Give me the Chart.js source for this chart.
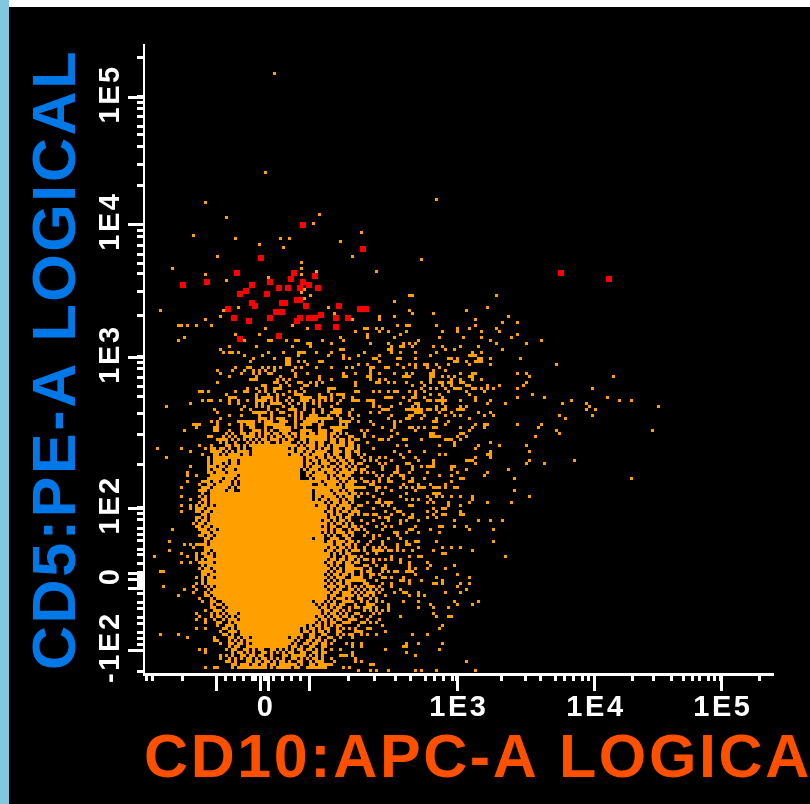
<!DOCTYPE html>
<html><head><meta charset="utf-8">
<style>
html,body{margin:0;padding:0;background:#000;width:810px;height:804px;overflow:hidden}
canvas{position:absolute;left:0;top:0}
#l{position:absolute;left:0;top:0;width:9px;height:804px;background:#80c8e0}
#t{position:absolute;left:9px;top:0;width:801px;height:7px;background:#fff}
</style>
<script src="https://cdn.jsdelivr.net/npm/chart.js@4"></script>
</head><body>
<canvas id="c" width="864" height="804"></canvas><div id="l"></div><div id="t"></div>
<script>
// Axis units are display channels of the logicle scale.
const xTitle = "CD10:APC-A LOGICAL";
const yTitle = "CD5:PE-A LOGICAL";
const xTickValues = [48.2,50.2,60.2,71.5,74.5,77.5,80.5,83.5,84.8,86.2,87.5,88.8,90.5,93.5,96.5,99.5,102.5,115.5,124.2,131.2,136.2,141.2,144.2,147.2,150.2,151.8,166.8,174.8,179.5,184.5,187.5,190.5,193.5,195.5,197.5,210.2,217.2,223.2,227.2,230.2,232.8,235.8,237.8,239.8,252.8];
const xMajorValues = [71.5,86.2,88.8,102.5,151.8,197.5,239.8];
const xLabelValues = [87.5,151.8,197.5,239.8];
const xLabelTexts = ["0","1E3","1E4","1E5"];
const yTickValues = [211.2,198.2,196.2,194.2,191.5,188.2,185.5,181.5,175.5,168.5,155.8,153.8,151.8,148.8,145.8,142.8,139.2,133.2,125.2,111.5,109.5,107.5,104.5,101.5,98.2,92.8,85.8,75.8,61.2,59.2,57.2,54.2,52.2,50.2,47.2,45.5,42.5,39.5,38.5,37.5,36.5,35.5,34.5,32.5,29.5,27.8,24.8,22.8,19.8,17.8,15.8,13.8,6.8];
const yMajorValues = [198.2,155.8,111.5,61.2,39.5,37.5,34.5,13.8];
const yLabelValues = [198.2,155.8,111.5,61.2,37.5,13.8];
const yLabelTexts = ["1E5","1E4","1E3","1E2","0","-1E2"];

// Gated events, [x, y]
const redEvents = [[100.5,155.5],[120.5,147.5],[86.5,144.5],[78.5,139.5],[60.5,135.5],[68.5,136.5],[97.5,139.5],[96.5,137.5],[104.5,138.5],[100.5,136.5],[102.5,135.5],[89.5,136.5],[83.5,135.5],[81.5,133.5],[79.5,132.5],[88.5,132.5],[92.5,134.5],[95.5,134.5],[99.5,134.5],[105.5,134.5],[83.5,129.5],[84.5,128.5],[93.5,129.5],[94.5,129.5],[98.5,130.5],[99.5,130.5],[101.5,128.5],[112.5,128.5],[119.5,127.5],[121.5,127.5],[75.5,127.5],[91.5,126.5],[93.5,126.5],[77.5,124.5],[82.5,123.5],[89.5,124.5],[98.5,123.5],[99.5,124.5],[102.5,124.5],[104.5,124.5],[106.5,125.5],[111.5,124.5],[115.5,124.5],[105.5,121.5],[111.5,121.5],[92.5,118.5],[79.5,117.5],[186.5,139.5],[202.5,137.5]];

// Densest part of the population, [y, x, x, ...]
const coreRows = [[80.5,85.5,89.5,93.5],[76.5,81.5,85.5,89.5,93.5,97.5],[72.5,81.5,85.5,89.5,93.5,97.5],[68.5,81.5,85.5,89.5,93.5,97.5,101.5],[64.5,77.5,81.5,85.5,89.5,93.5,97.5,101.5],[60.5,77.5,81.5,85.5,89.5,93.5,97.5,101.5],[56.5,77.5,81.5,85.5,89.5,93.5,97.5,101.5],[52.5,77.5,81.5,85.5,89.5,93.5,97.5,101.5],[48.5,75.5,77.5,81.5,85.5,89.5,93.5,97.5,101.5,105.5],[44.5,75.5,77.5,81.5,85.5,89.5,93.5,97.5,101.5,105.5],[40.5,75.5,77.5,81.5,85.5,89.5,93.5,97.5,101.5,105.5],[36.5,75.5,77.5,81.5,85.5,89.5,93.5,97.5,101.5,105.5],[32.5,75.5,77.5,81.5,85.5,89.5,93.5,97.5,101.5,105.5],[28.5,77.5,81.5,85.5,89.5,93.5,97.5,101.5],[24.5,81.5,85.5,89.5,93.5,97.5,101.5],[20.5,81.5,85.5,89.5,93.5,97.5],[16.5,85.5,89.5,93.5]];

// Sparse events, [y, x, x, ...]
const sparseTopRows = [[206,91],[173,88],[164,145],[163,68],[159,106],[158,75],[156,104],[153,120],[152,64],[151,78,93,96],[150,113],[149,86],[148,94],[145,72,117],[144,140],[143,100],[141,57,100],[140,105,125],[139,68,100],[138,89],[137,75],[134,101],[133,100],[132,103],[131,101],[128,79,109],[127,53,74,92],[126,111],[125,73,78],[124,68,117],[122,59,60,62,65,70,97],[121,88,102],[120,118,126],[119,78,86],[118,61,92,113],[117,81,90,98]];
const orangeUpperRows = [[117,59,81,89,95,99,107,114],[116,102,103,110],[115,76,85,97,103],[114,73,113,114],[113,74,76,77,79,89,94,99,100,101,105,110],[112,81,87,99,109,114,119],[111,84,91,95,96,114,116],[110,83,95,96,99,101,106,107],[109,95,96,102,119],[108,78,82,83,87,89,91,93,98,100,105,110,115,117],[107,72,77,81,84,86,88,91,97],[106,73,80,84,86,89,90,98,102,114,118],[105,76,85,93,98,106,114,115],[104,83,84,85,92,94,96,106,110],[103,72,91,92,95,99,100,103,105,107,118],[102,87,88,93,96,101,102,105,118],[101,82,85,88,91,92,93,100,109,110,111],[100,66,67,69,78,81,82,86,88,91,96,98,101,109,118,119],[99,75,85,89,92,94,98,99,100,106,110,112,113,114],[98,76,77,78,85,87,88,89,90,92,96,100,101,102,103,106,107,108,110,114,117],[97,67,69,70,73,76,79,82,85,86,87,88,90,92,95,97,100,101,102,104,106,108,110,113,117,118,119],[96,63,76,79,85,87,90,91,92,93,96,99,101,104,106,112],[95,55,81,85,87,89,94,97,101,106,110],[94,71,80,83,89,92,96,97,98,101,104,107,111,112,113,117],[93,72,84,85,86,87,88,90,93,94,98,100,104,107,110,111,112,113,116],[92,76,80,86,90,96,98,100,103,104,105,109,112,116,119],[91,73,86,87,88,90,92,93,94,98,100,102,103,104,105,106,107,108,109,110,113,117],[90,70,72,79,80,81,82,83,84,86,88,89,90,93,94,95,98,101,102,103,104,105,107,113,114,115,116,119],[89,64,65,66,72,76,80,82,83,84,88,89,90,91,92,93,94,98,100,101,102,103,106,107,113,115],[88,65,71,72,80,83,84,88,91,92,93,94,95,96,98,101,106,110,111,112,113,114,115],[87,61,71,72,76,80,84,85,86,88,90,93,94,95,96,100,101,102,103,106,107,108,111,112,113],[86,75,80,83,88,91,95,98,101,104,106,107,110,113],[85,69,70,76,81,82,83,86,92,93,96,100,101,102,103,104,106,107,110,116],[84,72,73,74,75,79,83,88,91,92,96,101,104,105,106,108,110,113,116,119],[83,73,84,88,94,95,101,103,106,111,114,116],[82,66,75,79,81,83,88,94,95,96,98,102,104,106,111,112,114,116,119],[81,52,60,68,70,73,79,84,88,90,92,99,100,103,108,111,115,117,119],[80,63,71,72,73,79,80,81,86,94,95,96,100,102,105,107,111,113,116,119],[79,67,72,77,79,81,97,98,102,105,107,111,115,119]];
const orangeCoreEdgeRows = [[78,55,69,71,73,74,75,77,79,102,104,106,110,113,116],[77,69,72,73,74,78,81,104,107,111,114,117],[76,69,71,73,75,77,81,103,108,115,119],[75,63,69,71,73,77,79,100,105,110,113,116],[74,69,72,75,77,80,103,108,110,114,117,118],[73,62,70,73,76,78,103,106,110,113,115,117],[72,62,65,70,71,73,76,78,106,108,112,115],[71,70,71,73,76,107,111,114,117],[70,62,67,69,71,75,105,110,112,116,118],[69,66,69,72,75,110,115,117],[68,60,67,68,71,74,106,108,109,110,111,112,115,118],[67,66,68,71,73,77,106,108,112,117],[66,71,73,75,77,106,107,108,109,113,115],[65,60,66,71,72,76,108,110,115,117],[64,63,67,71,73,76,110,112,116],[63,71,73,75,106,111,115],[62,60,63,65,68,73,75,107,111,114,116,119],[61,63,65,66,70,72,73,76,106,108,112,116],[60,60,65,68,71,73,106,110,115,118],[59,68,71,73,75,105,108,112,117],[58,66,70,72,107,111,115],[57,65,68,71,73,105,109,114],[56,64,66,70,72,105,108,113,117],[55,66,68,71,72,110,115],[54,57,66,68,71,108,112,118],[53,68,71,73,112,113,116],[52,67,69,72,74,114,117],[51,68,71,72,111,115],[50,56,70,72,112,113,117],[49,61,63,65,66,67,68,72,110,113,116],[48,64,68,71,74,107,110,113,118],[47,56,68,71,72,112,117],[46,60,65,67,72,75,109,115],[45,51,62,65,69,72,108,116,118],[44,65,67,71,76,110,113,117],[43,60,63,66,67,69,72,112,115],[42,67,70,72,116],[41,66,68,72,106,108,115,118],[40,53,54,67,69,75,107,112,116],[39,67,68,72,111,114,117],[38,65,67,69,112,113,118],[37,67,70,72,115],[36,65,71,108,112,116],[35,54,64,72,110,113,118],[34,61,65,73,104,112,116],[33,64,68,71,76,108,112,114],[32,59,68,72,74,76,106,110,115,119],[31,66,72,112,113,116],[30,67,70,78,105,107,115],[29,70,73,111,113,118],[28,70,77,105,108,112,116],[27,68,71,73,79,105,108,112],[26,65,72,77,81,106,111,115,118],[25,66,70,73,79,107,112,114,117],[24,65,68,71,77,102,108,112,118],[23,68,72,79,103,110,115],[22,72,76,101,106,112],[21,65,68,74,80,104,108,114,118],[20,73,77,83,102,107,112],[19,53,59,74,80,83,87,90,94,99,103,107,114],[18,62,71,76,81,84,88,92,95,98,104,110,113,117],[17,71,72,80,83,85,91,94,97,102,106,111],[16,73,77,80,84,90,93,96,102,105,108,115],[15,78,82,85,91,94,98,103,107,117],[14,66,68,75,77,81,86,90,95,99,102,105,110,113],[13,68,77,80,88,92,96,101,105,108],[12,73,75,81,84,87,94,98,99,100,101,105,113,114,115],[11,73,78,82,85,88,92,98,102,105,110,118],[10,76,83,86,88,91,94,100,105,107,111],[9,77,80,81,82,85,88,91,94,95,96,97,98,103,106,107,108,109,110],[8,68,71,72,79,80,81,82,83,84,85,86,88,92,93,94,95,96,98,102,103,104,105,106,107,108,114,116]];
const orangeHaloRows = [[86,77,81,84,86,89,92,94,97,100,103,108,111,115],[85,74,78,84,88,90,95,98,105,108,112,117],[84,77,81,85,87,90,94,97,100,103,107,111,114,118],[83,75,78,82,86,89,92,96,99,104,107,110,113,117],[82,70,76,78,85,87,90,92,97,100,103,107,109,113,117],[81,71,74,76,81,86,89,93,95,97,101,104,106,109,112,116],[80,70,75,77,82,97,99,103,106,108,112,115,118],[79,71,74,76,78,82,99,101,104,106,109,112,116],[78,72,76,78,81,83,98,100,103,107,109,112,115],[77,71,75,77,80,83,100,102,105,108,110,113,116],[76,72,75,78,80,100,102,105,107,109,112,114,117],[75,70,74,76,78,80,102,104,106,108,111,114,118],[74,71,73,76,79,101,104,105,107,109,112,115],[73,69,72,74,77,79,102,105,107,109,111,114,116],[72,72,74,75,77,80,102,104,105,107,110,113,116],[71,69,72,75,77,79,103,105,106,108,110,113,115],[70,68,72,74,76,78,80,104,106,108,109,111,114,117],[69,70,73,74,76,78,106,107,109,111,113,116],[68,69,72,73,75,77,79,104,105,107,113,116],[67,67,70,72,74,76,105,107,109,111,114,116],[66,67,70,72,74,76,105,110,112,114,117],[65,68,70,73,74,75,105,106,109,111,113,116],[64,68,70,72,74,75,105,107,108,111,114,117],[63,66,68,70,72,74,75,104,105,107,109,112,114,117],[62,67,70,72,74,75,104,106,108,110,113,115],[61,67,69,71,74,75,104,105,107,110,113,115,118],[60,66,69,72,74,75,104,105,107,109,112,114,117],[59,67,70,72,74,75,104,106,107,110,113,116],[58,65,68,71,73,74,75,104,105,106,108,110,113,116],[57,67,70,72,74,75,104,106,108,111,113,116],[56,67,69,71,73,74,75,104,106,107,110,112,115],[55,65,69,73,74,75,104,105,106,108,111,114,117],[54,67,70,73,74,75,104,105,106,107,110,113,116],[53,67,69,72,74,75,104,105,106,108,110,114,117],[52,66,70,73,74,75,104,105,106,107,109,111,115],[51,69,71,73,74,75,105,106,107,110,112,116],[50,68,71,73,74,107,109,110,114,116],[49,70,71,73,74,108,109,112,115,118],[48,69,70,72,73,108,111,114,116],[47,69,73,74,109,110,113,115],[46,68,70,73,74,108,111,113,116],[45,68,70,73,74,109,111,114,117],[44,69,70,72,73,74,108,111,114,116],[43,68,70,73,74,109,110,113,116],[42,69,71,73,74,108,110,112,115],[41,69,71,73,74,109,111,113,117],[40,68,70,72,73,74,108,110,113,115],[39,70,71,73,74,109,112,115],[38,70,72,73,74,108,110,114,117],[37,69,71,73,74,109,111,113,116],[36,67,69,70,72,73,74,110,113,115],[35,68,70,73,74,109,111,114,116],[34,69,71,72,74,108,110,113,117],[33,70,72,73,74,109,111,115],[32,69,71,73,75,108,111,114,117],[31,70,73,74,75,106,108,110,114],[30,71,74,75,76,106,109,111,114],[29,72,75,76,78,80,104,106,108,110,114],[28,71,74,76,78,80,104,107,110,113],[27,72,75,77,78,80,104,106,109,111,114],[26,70,74,76,78,80,104,105,108,110,113],[25,72,75,77,80,104,106,109,111,115],[24,74,76,78,80,104,105,107,110,113],[23,73,76,78,80,102,104,106,108,111,114],[22,75,77,79,98,100,103,105,108,110,113],[21,75,77,79,82,99,101,103,106,109,112],[20,76,78,81,84,99,101,104,106,109,113],[19,75,77,81,84,88,91,96,100,104,108,112],[18,77,79,82,86,89,93,97,100,103,106,109],[17,76,78,82,86,89,92,96,99,103,105,108],[16,76,79,82,85,88,92,95,98,101,104,107,110],[15,76,79,83,86,89,93,97,100,104,108],[14,78,82,84,87,91,93,97,100,103,107],[13,79,82,84,87,90,94,97,100,104,107],[12,77,80,83,86,90,95,97,103,107],[11,76,80,83,87,90,94,97,100,104,107],[10,75,78,82,85,89,93,96,99,103,106],[9,78,84,87,90,93,100,104],[8,77,87,90,99]];
const orangeShoulderRows = [[78,120,128,134],[77,123,130],[76,119,126,135],[75,122,132],[74,121,127,137],[73,120,131],[72,125,133],[71,120,126],[70,122,129,136],[69,123,134],[68,120,128],[67,125,130,138],[66,122,127],[65,119,124,133],[64,126,135],[63,122,129],[62,120,127,137],[61,124,131],[60,119,128],[59,122,130,134],[58,126,136],[57,120,124],[56,122,127,133],[55,125,130],[54,119,127,137],[53,122,135],[52,121,126],[51,124,129,133],[50,119,123],[49,122,127,135],[48,124,128],[47,119,127,134],[46,122,125],[45,120,130,136],[44,122,126],[43,119,124,133],[42,122,125],[41,120,127],[40,122,129,135],[39,120,124],[38,123,128],[37,120,125,133],[36,122,127],[35,120,124],[34,119,125],[33,120,124],[32,122,128],[31,119,123],[30,120,127],[29,122,124],[28,119,123],[27,121,123],[26,119,126],[25,120,123],[24,122],[23,120,125],[22,119],[21,122],[20,119],[19,122]];
const orangeRightRows = [[132,136,137,165],[130,131],[128,162],[127,136,155],[126,137,144],[125,126,131,169],[124,126,158],[123,167,172],[122,132,135,136,145,158],[121,121,122,125,127,152,156,165],[120,129,135,147,152,160,166],[119,122,133,172],[118,122,131,146,154,160,170],[117,139,163,180],[116,123,129,134,136,138,165,175],[115,130,133,134,137,144,147,153,159],[114,129,130,148,151,167],[113,121,130,133,138,145,157,160],[112,126,143,156,157,158],[111,124,125,132,133,138,149,150,152,159,160,163,173],[110,126,151,152,155,158,159,160],[109,122,132,136,138,141,142,145,149,156,163,185],[108,123,124,128,129,134,138,142,146],[107,123,144,148],[106,123,126,131,135,137,143,144,153,157,158,172,175],[105,122,123,134,135,136,143,144,147,149,151,156,157,176,204],[104,123,126,128,143,150,153,157,160],[103,125,126,129,131,135,140,143,146,147,149,150,153,154,175],[102,137,141,147,150,155,156,162,166,174],[101,140,143,145,148,151,152,153,157,158,160,162,164,172,197],[100,124,126,129,131,132,136,138,141,149,155,161],[99,138,143,146,156,177],[98,128,129,130,134,137,138,141,147,158,172,181,202],[97,122,123,124,136,142,143,145,146,147,148,153,158,163,190,206,210],[96,124,133,138,139,147,162,168,187,195],[95,124,126,130,137,139,145,148,153,155,196,219],[94,127,128,129,135,136,137,138,139,140,142,143,145,147,148,152,153,154,195,198],[93,123,126,138,139,140,146,150,159,163],[92,130,136,137,141,148,151,153,161,164,186,197],[91,129,135,136,140,145,156,188],[90,123,131,133,144,145,149],[89,124,131,148,158,161,162,172,180],[88,127,131,136,137,139,141,144,145,153,157,161,179],[87,120,122,130,138,156,185,217],[86,121,132,143,144,153,154,186],[85,121,124,130,143,144,145,146,152,155,178],[84,126,127,129,134,135,140,148,149,150,153],[83,122,151,163],[82,132,135,146,151,159,166,175],[81,124,158],[80,131,136,141,163,176],[79,121,133,146,148,162,163],[78,123,126,138,158,163],[77,121,125,139,144,155,156,157,176,191],[76,120,128,136,144,158,175,181],[75,127,137,140,142,143,144,150,151],[74,120,132,137,150,155,169],[73,122,124,132,136,142,152,162],[72,127,130,134,146,150,161],[71,129,134,137,141,153,154,171,210],[70,121,124,126,130,137,150],[69,124,134,139,143,148],[68,117,119,121,125,126,133,135,137,139,140,141,144,145,146,148,151,152],[67,171],[66,118,120,135,144,145,146],[65,142,145,147,150,153,157,176],[64,137,139,143,157],[63,125,126,128,129,130,142,144,149,156,162,170],[62,129,136,149,153],[61,131,144,147,148],[60,132,133,142,145,153],[59,119,121,124,125,137,144,147,148,153,154],[58,128,129,137,142,145],[57,129,133,135,139,151,159,163,167],[55,118,120,128,138,146,147,151,155],[54,116,118,121,136,143,156,164],[53,131,132,139,146],[52,124,132],[50,117,127,135,138,139,145,164],[49,132,136],[48,116,121,126,132,139,147,150,153],[47,117,118,121,124,125,126,129,130,132,137,144,157],[46,147,148],[45,139,140,168],[44,119,121,124,128,130,133],[43,118,136,142],[42,116,117,121,128,136,143,151],[41,116,117,119,123,128,136,138,142,148],[40,116,117,120,123,127,131,132,136,137],[39,123,126,138,152],[38,119,120,127,130,134,145,156],[37,117,118,119,121,134,136,140,147],[36,116,121,130,136,144,145,147,153,156],[35,118,122,123,126,130,152],[34,116,121,123,127,133,155],[33,116,118,122,123,126,131,134,135,139,148,153],[32,116,121,124,136,139,141],[31,114,120,125],[30,116,117,122,125,134,139,151,159],[29,123,129,143,152,157],[28,118,121,122,125,129,139,144,149],[27,116,125,127,129],[26,124,144],[25,133,145,149,150],[24,116,117,118,126],[23,116,121,123],[22,127,147],[21,116,123,146],[20,118,120,128],[19,116,117,120,125,137,142],[16,117,120,135,139,147],[15,117,120,134,135],[14,128,146],[13,117,135],[12,117,138],[10,118,120,155],[9,123,124],[7,119,123,125,129,138,140,145,158]];

const toEvents = rows => rows.flatMap(([y, ...xs]) => xs.map(x => ({x, y})));
const redData = redEvents.map(([x, y]) => ({x, y}));
const coreData = toEvents(coreRows);
const orangeData = toEvents([...sparseTopRows, ...orangeUpperRows, ...orangeCoreEdgeRows, ...orangeHaloRows, ...orangeShoulderRows, ...orangeRightRows]);

const ORANGE = "#ffa000", RED = "#ff0000", WHITE = "#ffffff";
const tickFont = {family: "'Liberation Sans'", weight: "bold", size: 29, lineHeight: 1};
const titleFont = {family: "'Liberation Sans'", weight: "bold", size: 61, lineHeight: 1};

const axisPlugin = {
  id: "axisPlugin",
  beforeDraw(chart) { chart.ctx.letterSpacing = "2.6px"; },
  afterDraw(chart) {
    const ctx = chart.ctx, x = chart.scales.x, y = chart.scales.y;
    ctx.save();
    ctx.fillStyle = WHITE;
    const left = Math.round(x.left), bottom = Math.round(y.bottom);
    ctx.fillRect(left - 1, bottom - 1, x.getPixelForValue(257.5) - left + 1, 3);
    xMajorValues.forEach(v => {
      const p = Math.round(x.getPixelForValue(v));
      ctx.fillRect(p - 1, bottom, 3, 17);
    });
    yMajorValues.forEach(v => {
      const p = Math.round(y.getPixelForValue(v));
      ctx.fillRect(128, p - 1, 16, 3);
    });
    ctx.restore();
  }
};

new Chart(document.getElementById("c"), {
  type: "scatter",
  data: {datasets: [
    {label: "Red gate", data: redData, backgroundColor: RED, pointStyle: "rect", pointRadius: 4.2426, pointBorderWidth: 0, clip: false},
    {label: "Core", data: coreData, backgroundColor: ORANGE, pointStyle: "rect", pointRadius: 8.4853, pointBorderWidth: 0, clip: false},
    {label: "Events", data: orangeData, backgroundColor: ORANGE, pointStyle: "rect", pointRadius: 2.1213, pointBorderWidth: 0, clip: false}
  ]},
  plugins: [axisPlugin],
  options: {
    responsive: false, animation: false, devicePixelRatio: 1,
    layout: {autoPadding: false, padding: {top: 45, right: 0, bottom: 0, left: 0}},
    plugins: {legend: {display: false}, tooltip: {enabled: false}},
    scales: {
      x: {
        type: "linear", min: 47.5, max: 287.5,
        afterFit(s) { s.height = 130; s.paddingLeft = 0; s.paddingRight = 0; },
        afterBuildTicks(s) { s.ticks = xTickValues.map(value => ({value})); },
        border: {display: false},
        grid: {drawOnChartArea: false, drawTicks: true, tickLength: 7, tickWidth: 3, tickColor: WHITE},
        ticks: {autoSkip: false, maxRotation: 0, minRotation: 0, color: WHITE, font: tickFont, padding: 12, labelOffset: 2,
          callback(v) { const i = xLabelValues.indexOf(v); return i < 0 ? "" : xLabelTexts[i]; }},
        title: {display: true, text: xTitle, color: "#ff5000", font: titleFont, align: "start", padding: {top: 0, bottom: 13}}
      },
      y: {
        type: "linear", min: 5.8333, max: 215.5,
        afterFit(s) { s.width = 144; s.paddingTop = 0; s.paddingBottom = 0; },
        afterBuildTicks(s) { s.ticks = yTickValues.map(value => ({value})); },
        border: {display: true, color: WHITE, width: 2},
        grid: {drawOnChartArea: false, drawTicks: true, tickLength: 7, tickWidth: 3, tickColor: WHITE},
        ticks: {autoSkip: false, minRotation: 90, maxRotation: 90, color: WHITE, font: tickFont, padding: -5, labelOffset: -3, crossAlign: "center",
          callback(v) { const i = yLabelValues.indexOf(v); return i < 0 ? "" : yLabelTexts[i]; }},
        title: {display: true, text: yTitle, color: "#0078e8", font: titleFont, align: "center", padding: {top: 28, bottom: 0}}
      }
    }
  }
});
</script>
</body></html>
